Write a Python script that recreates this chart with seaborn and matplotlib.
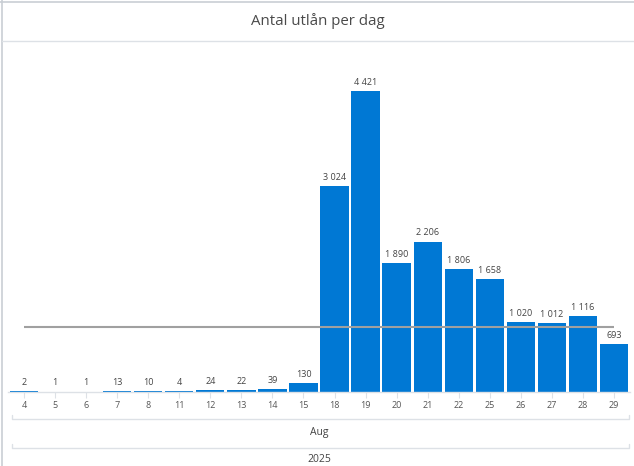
import matplotlib
matplotlib.use("Agg")
import matplotlib.pyplot as plt
from matplotlib.lines import Line2D
import seaborn as sns
import pandas as pd

# data
days = ["4", "5", "6", "7", "8", "11", "12", "13", "14", "15",
        "18", "19", "20", "21", "22", "25", "26", "27", "28", "29"]
loans = [2, 1, 1, 13, 10, 4, 24, 22, 39, 130,
         3024, 4421, 1890, 2206, 1806, 1658, 1020, 1012, 1116, 693]
month_label = "Aug"
year_label = "2025"
title = "Antal utlån per dag"

W, H = 634, 466
BLUE = "#0078D4"
GRID = "#dde1e6"
TEXT = "#444444"

sns.set_theme(style="white")
plt.rcParams["font.family"] = ["Open Sans", "DejaVu Sans"]

df = pd.DataFrame({"dag": days, "utlan": loans})

fig = plt.figure(figsize=(W / 100, H / 100), dpi=100)


def fx(px):
    return px / W


def fy(py):
    return 1 - py / H


# plot area in pixels
left, right, base, top = 8.5, 629.5, 391.6, 45
ax = fig.add_axes([fx(left), fy(base), fx(right - left), (base - top) / H])

sns.barplot(data=df, x="dag", y="utlan", order=days, color=BLUE,
            saturation=1, width=0.91, linewidth=0, ax=ax)

px_per_unit = 0.068
ax.set_ylim(0, (base - top) / px_per_unit)
ax.set_xlim(-0.5, len(days) - 0.5)

# value labels
for i, v in enumerate(loans):
    ax.annotate(f"{v:,}".replace(",", " "), (i, v), xytext=(0, 3),
                textcoords="offset points", ha="center", va="bottom",
                fontsize=6.5, color=TEXT)

# average line
avg = sum(loans) / len(loans)
ax.plot([0, len(days) - 1], [avg, avg], color="#a0a0a0", lw=1.5, zorder=5,
        solid_capstyle="butt")

ax.set_xlabel("")
ax.set_ylabel("")
ax.set_yticks([])
for s in ["top", "right", "left"]:
    ax.spines[s].set_visible(False)
ax.spines["bottom"].set_color(GRID)
ax.spines["bottom"].set_linewidth(1)
ax.spines["bottom"].set_zorder(6)
ax.tick_params(axis="x", length=4, width=0.8, color=GRID, pad=3,
               labelsize=6.5, labelcolor="#555555", bottom=True)

# title and frame
fig.text(fx(318), fy(21), title, ha="center", va="center",
         fontsize=10.8, color="#4a4a4a")
frame = dict(color="#c9ced4", lw=1.2)
fig.add_artist(Line2D([0, 1], [fy(2), fy(2)], **frame))
fig.add_artist(Line2D([fx(2), fx(2)], [0, 1], **frame))
fig.add_artist(Line2D([fx(2), 1], [fy(40.5), fy(40.5)], color=GRID, lw=1))

# hierarchical axis brackets
for y in (419, 448):
    fig.add_artist(Line2D([fx(12), fx(12), fx(629), fx(629)],
                          [fy(y - 4), fy(y), fy(y), fy(y - 4)],
                          color=GRID, lw=1))
fig.text(fx(319), fy(432), month_label, ha="center", va="center",
         fontsize=7.5, color=TEXT)
fig.text(fx(319), fy(460), year_label, ha="center", va="center",
         fontsize=7.5, color=TEXT)

fig.savefig("out.png", dpi=100)
